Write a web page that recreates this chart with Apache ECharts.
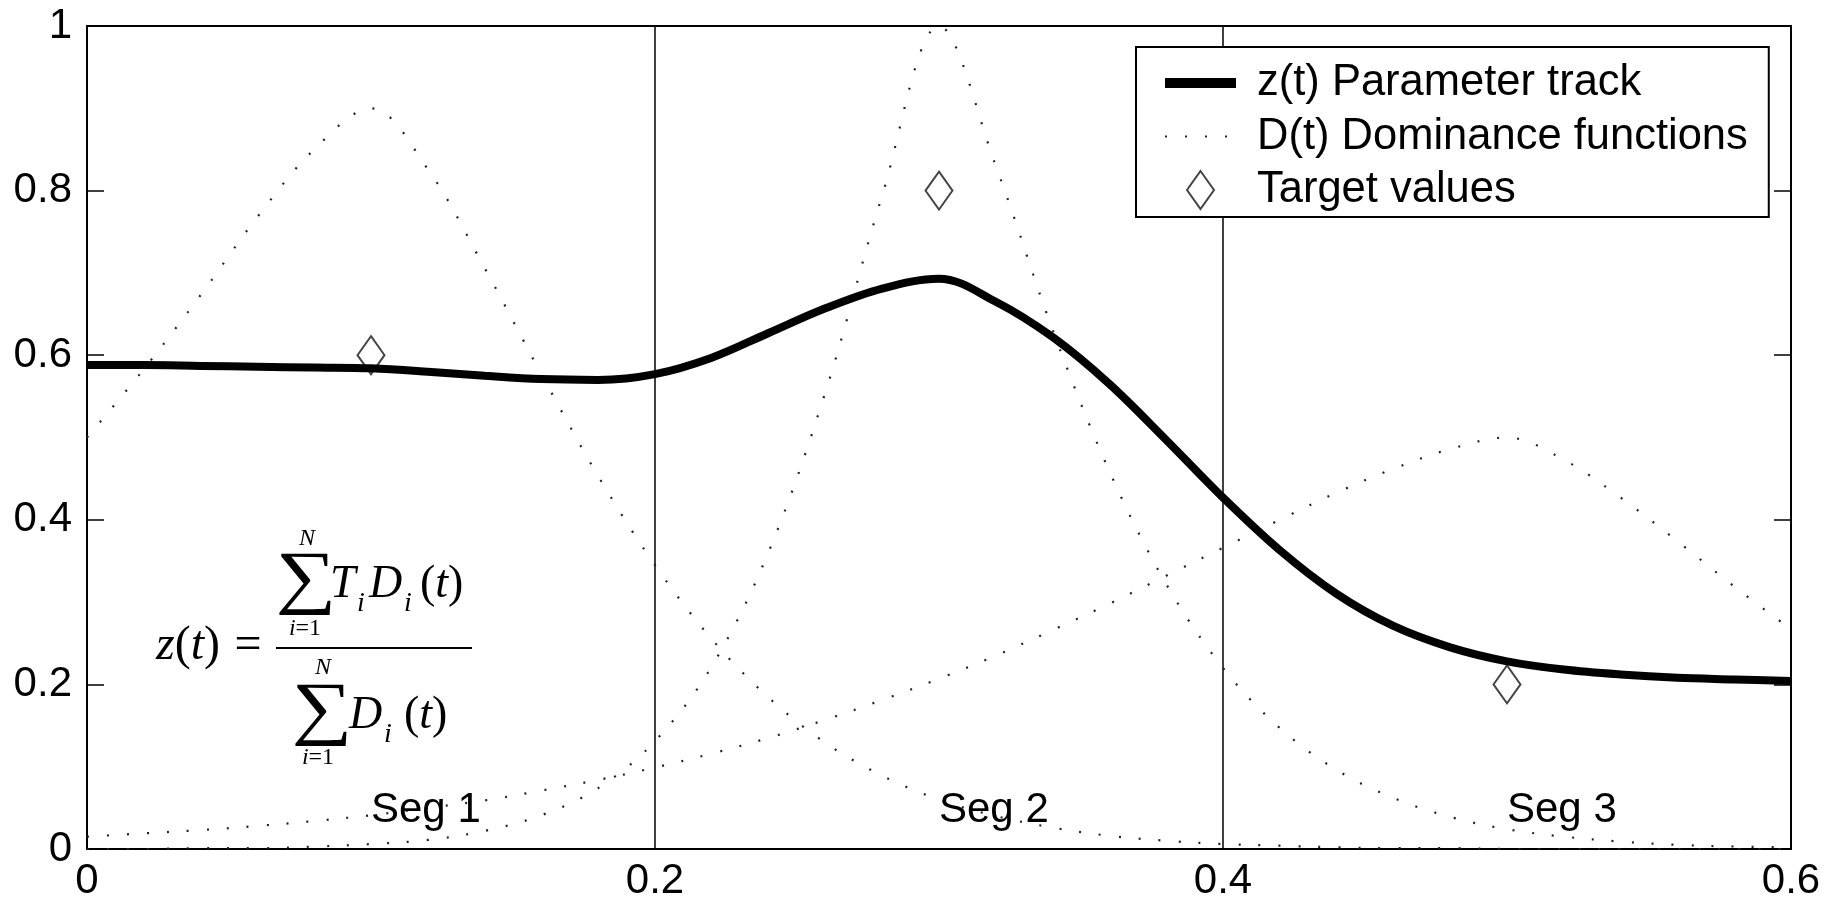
<!DOCTYPE html>
<html>
<head>
<meta charset="utf-8">
<script src="https://cdn.jsdelivr.net/npm/echarts@6/dist/echarts.min.js"></script>
<style>
html,body{margin:0;padding:0;background:#fff;}
#chart{width:1843px;height:912px;}
</style>
</head>
<body>
<div id="chart"></div>
<script>
// time samples (x axis)
const tValues = [0.00,0.02,0.04,0.06,0.08,0.10,0.12,0.14,0.16,0.18,0.20,0.22,0.24,0.26,0.28,0.30,
                 0.32,0.34,0.36,0.38,0.40,0.42,0.44,0.46,0.48,0.50,0.52,0.54,0.56,0.58,0.60];
// dominance functions
const D1 = [0.500,0.583,0.673,0.768,0.850,0.900,0.826,0.706,0.577,0.453,0.345,0.255,0.184,0.129,0.089,0.060,
            0.040,0.026,0.016,0.010,0.006,0.004,0.002,0.001,0.001,0.000,0.000,0.000,0.000,0.000,0.000];
const D2 = [0.000,0.000,0.001,0.001,0.003,0.006,0.011,0.022,0.041,0.074,0.131,0.222,0.361,0.555,0.794,1.000,
            0.830,0.631,0.459,0.322,0.220,0.147,0.096,0.062,0.039,0.024,0.015,0.009,0.005,0.003,0.002];
const D3 = [0.015,0.019,0.023,0.028,0.034,0.041,0.050,0.059,0.071,0.084,0.099,0.116,0.135,0.157,0.181,0.207,
            0.235,0.266,0.298,0.332,0.366,0.400,0.433,0.462,0.486,0.500,0.473,0.427,0.374,0.319,0.267];
// parameter track z(t)
const Z  = [0.588,0.588,0.587,0.586,0.585,0.584,0.580,0.575,0.571,0.570,0.577,0.597,0.627,0.657,0.681,0.693,
            0.665,0.622,0.565,0.497,0.427,0.363,0.310,0.271,0.245,0.228,0.218,0.212,0.208,0.206,0.204];
// targets
const targetT = [0.1, 0.3, 0.5];
const targetV = [0.6, 0.8, 0.2];
// segment labels
const segNames = ['Seg 1','Seg 2','Seg 3'];
const segT = [0.1, 0.3, 0.5];
const segV = [0.047, 0.047, 0.047];
// axis ticks
const xTicks = [0, 0.2, 0.4, 0.6];
const yTicks = [0, 0.2, 0.4, 0.6, 0.8, 1];

const NAME_Z = 'z(t) Parameter track';
const NAME_D = 'D(t) Dominance functions';
const NAME_T = 'Target values';

const pairs = arr => tValues.map((t, i) => [t, arr[i]]);
const SANS = '"Liberation Sans", Arial, sans-serif';
const SERIF = '"Liberation Serif", "Times New Roman", serif';

const dotStyle = {color:'#222', width:2.2, type:[2,18], cap:'butt'};
const dSeries = [D1, D2, D3].map(d => ({
  type:'line', name:NAME_D, data:pairs(d), symbol:'none', smooth:0.35,
  lineStyle:dotStyle, itemStyle:{color:'#222'}, z:2, silent:true
}));

const chart = echarts.init(document.getElementById('chart'), null, {renderer:'canvas'});

const txt = (text, x, y, size, it, align) => ({type:'text', x, y, z:100,
  style:{text, font:(it?'italic ':'')+size+'px '+SERIF, fill:'#000', align:align||'left', verticalAlign:'middle'}});
const richTxt = (text, x, y, size, align) => ({type:'text', x, y, z:100,
  style:{text, font:size+'px '+SERIF, fill:'#000', align:align||'left', verticalAlign:'middle',
    rich:{i:{font:'italic '+size+'px '+SERIF, fill:'#000'}}}});
const sigma = (x, y) => ({type:'text', x, y, z:100, scaleX:1.2,
  style:{text:'\u2211', font:'71px '+SERIF, fill:'#000', align:'center', verticalAlign:'middle'}});

const option = {
  animation:false,
  backgroundColor:'#fff',
  grid:{left:87, right:52, top:26, bottom:63, show:true, borderColor:'#000', borderWidth:2, backgroundColor:'transparent'},
  xAxis:{
    type:'value', min:xTicks[0], max:xTicks[xTicks.length-1], interval:0.2,
    axisLine:{show:true, lineStyle:{color:'#000', width:2}},
    axisTick:{show:false},
    splitLine:{show:true, lineStyle:{color:'#000', width:1.5}},
    axisLabel:{color:'#000', fontFamily:SANS, fontSize:42, margin:11,
      formatter:v => String(+v.toFixed(1))}
  },
  yAxis:[{
    type:'value', min:yTicks[0], max:yTicks[yTicks.length-1], interval:0.2,
    axisLine:{show:true, lineStyle:{color:'#000', width:2}},
    axisTick:{show:true, inside:true, length:17, lineStyle:{color:'#000', width:1.5}},
    splitLine:{show:false},
    axisLabel:{color:'#000', fontFamily:SANS, fontSize:42, margin:15,
      formatter:v => String(+v.toFixed(1))}
  },{
    type:'value', position:'right', min:0, max:1, interval:0.2,
    axisLine:{show:false},
    axisTick:{show:true, inside:true, length:17, lineStyle:{color:'#000', width:1.5}},
    splitLine:{show:false}, axisLabel:{show:false}
  }],
  legend:{
    orient:'vertical', left:1136, top:47,
    padding:[14, 21, 5, 24], itemGap:9.5, itemWidth:71, itemHeight:38,
    backgroundColor:'#fff', borderColor:'#000', borderWidth:2, borderRadius:0,
    selectedMode:false,
    textStyle:{color:'#000', fontFamily:SANS, fontSize:43.5, lineHeight:44, padding:[0,0,0,16]},
    data:[
      {name:NAME_Z, lineStyle:{width:10, color:'#000'}, itemStyle:{opacity:0}},
      {name:NAME_D, lineStyle:{color:'#222', width:2.2, type:[2,18]}, itemStyle:{opacity:0}},
      {name:NAME_T, icon:'path://M13.5,0L27,19L13.5,38L0,19Z',
       itemStyle:{color:'rgba(255,255,255,0)', borderColor:'#444', borderWidth:2, opacity:1}}
    ]
  },
  series:[
    ...dSeries,
    {
      type:'scatter', name:NAME_T, data:targetT.map((t,i)=>[t, targetV[i]]),
      symbol:'diamond', symbolSize:[27,38], z:3, silent:true,
      itemStyle:{color:'rgba(255,255,255,0)', borderColor:'#444', borderWidth:2, opacity:1}
    },
    {
      type:'line', name:NAME_Z, data:pairs(Z), symbol:'none', smooth:0.35, z:4, silent:true,
      lineStyle:{color:'#000', width:8, cap:'butt'}, itemStyle:{color:'#000'}
    },
    {
      type:'scatter', name:'segments', data:segT.map((t,i)=>[t, segV[i], segNames[i]]),
      symbolSize:0, z:5, silent:true, itemStyle:{opacity:1},
      label:{show:true, position:'right', distance:0, color:'#000', opacity:1, fontFamily:SANS, fontSize:42,
        formatter:p => p.data[2]}
    }
  ],
  graphic:[
    // z(t) =
    richTxt('{i|z}({i|t})', 156, 646, 48),
    txt('=', 248, 646, 48, false, 'center'),
    // fraction bar
    {type:'line', z:100, shape:{x1:276, y1:648, x2:472, y2:648}, style:{stroke:'#000', lineWidth:2}},
    // numerator
    sigma(306, 581),
    txt('N', 307, 539, 24, true, 'center'),
    richTxt('{i|i}=1', 305, 629, 24, 'center'),
    txt('T', 330, 585, 46, true),
    txt('i', 357, 604, 28, true),
    txt('D', 369, 585, 46, true),
    txt('i', 404, 604, 28, true),
    richTxt('({i|t})', 420, 585, 46),
    // denominator
    sigma(322, 712),
    txt('N', 323, 668, 24, true, 'center'),
    richTxt('{i|i}=1', 318, 758, 24, 'center'),
    txt('D', 349, 716, 46, true),
    txt('i', 384, 735, 28, true),
    richTxt('({i|t})', 404, 716, 46)
  ]
};
chart.setOption(option);
</script>
</body>
</html>
